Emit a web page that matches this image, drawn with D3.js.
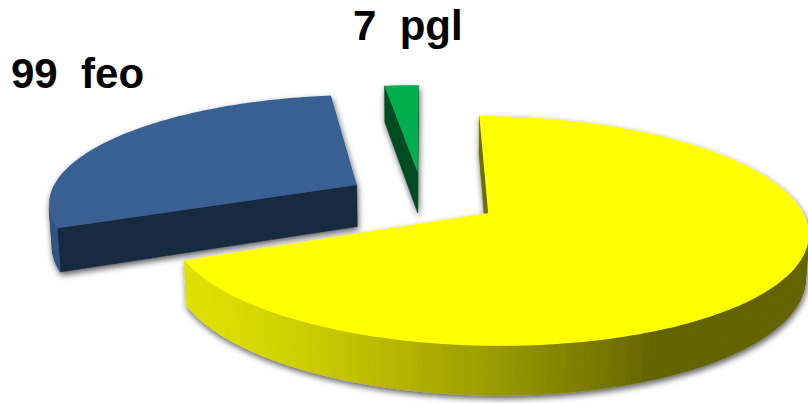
<!DOCTYPE html>
<html>
<head>
<meta charset="utf-8">
<script src="https://cdn.jsdelivr.net/npm/d3@7"></script>
<style>
  html, body { margin: 0; padding: 0; background: #ffffff; }
  svg { display: block; }
</style>
</head>
<body>
<svg id="chart" width="808" height="403"></svg>
<script>
// ---- data (clockwise from 12 o'clock) ----
const categories = ["other", "feo", "pgl"];
const values = [231, 99, 7];
const labelText = [null, "99  feo", "7  pgl"];
const sliceColors = ["#ffff00", "#376092", "#00b050"];

// ---- layout / view constants ----
const W = 808, H = 403;
const view = { cx: 422.5, cy: 198, f: 1899, D: 6.16, tilt: 20.4 * Math.PI / 180, depth: 0.147, explode: 0.25 };
const labelPos = [null, [11, 88], [353, 40]];
const sinA = Math.sin(view.tilt), cosA = Math.cos(view.tilt);
const lightAngle = 245 * Math.PI / 180;

const svg = d3.select("#chart");
const defs = svg.append("defs");
const flt = defs.append("filter").attr("id", "shadow")
  .attr("x", "-20%").attr("y", "-20%").attr("width", "140%").attr("height", "150%");
flt.append("feGaussianBlur").attr("in", "SourceAlpha").attr("stdDeviation", 3).attr("result", "b");
flt.append("feOffset").attr("in", "b").attr("dx", 1).attr("dy", 3).attr("result", "o");
const ct = flt.append("feComponentTransfer").attr("in", "o").attr("result", "s");
ct.append("feFuncA").attr("type", "linear").attr("slope", 0.65);
const mg = flt.append("feMerge");
mg.append("feMergeNode").attr("in", "s");
mg.append("feMergeNode").attr("in", "SourceGraphic");

// perspective projection of world point (X right, Y up, Z away)
function proj(X, Y, Z) {
  const yc = Y * cosA + Z * sinA;
  const zc = view.D - Y * sinA + Z * cosA;
  return [view.cx + view.f * X / zc, view.cy - view.f * yc / zc];
}
const camera = [0, view.D * sinA, -view.D * cosA];
function facing(nx, nz, px, py, pz) {
  return nx * (camera[0] - px) + nz * (camera[2] - pz) > 0;
}
function shade(color, k) {
  const c = d3.rgb(color);
  return d3.rgb(c.r * k, c.g * k, c.b * k).formatHex();
}
const line = d3.line();

const pie = d3.pie().sort(null).startAngle(0).endAngle(2 * Math.PI);
const arcs = pie(values).map((a, i) => {
  const m = (a.startAngle + a.endAngle) / 2;
  return Object.assign(a, { i, ox: view.explode * Math.sin(m), oz: view.explode * Math.cos(m) });
});

// draw back to front
const order = arcs.slice().sort((a, b) => b.oz - a.oz);
const hgt = view.depth;

order.forEach(a => {
  const g = svg.append("g").attr("filter", "url(#shadow)");
  const col = sliceColors[a.i];
  const a0 = a.startAngle, a1 = a.endAngle;
  const n = Math.max(2, Math.ceil((a1 - a0) / (Math.PI / 180)));
  const ts = d3.range(n + 1).map(k => a0 + (a1 - a0) * k / n);
  const pt = (t, y) => proj(a.ox + Math.sin(t), y, a.oz + Math.cos(t));
  const vTop = proj(a.ox, 0, a.oz), vBot = proj(a.ox, -hgt, a.oz);

  // radial faces
  const radial = [
    { t: a0, nx: -Math.cos(a0), nz: Math.sin(a0) },
    { t: a1, nx: Math.cos(a1), nz: -Math.sin(a1) }
  ];
  radial.forEach(r => {
    if (facing(r.nx, r.nz, a.ox, 0, a.oz)) {
      const poly = [vTop, pt(r.t, 0), pt(r.t, -hgt), vBot];
      g.append("path").attr("d", line(poly) + "Z")
        .attr("fill", shade(col, 0.43)).attr("stroke", shade(col, 0.43)).attr("stroke-width", 0.5);
    }
  });

  // curved outer side
  for (let k = 0; k < n; k++) {
    const t0 = ts[k], t1 = ts[k + 1], tm = (t0 + t1) / 2;
    const px = a.ox + Math.sin(tm), pz = a.oz + Math.cos(tm);
    if (!facing(Math.sin(tm), Math.cos(tm), px, 0, pz)) continue;
    const kk = 0.39 + 0.49 * Math.max(0, Math.cos(tm - lightAngle));
    const c = shade(col, kk);
    const poly = [pt(t0, 0), pt(t1, 0), pt(t1, -hgt), pt(t0, -hgt)];
    g.append("path").attr("d", line(poly) + "Z")
      .attr("fill", c).attr("stroke", c).attr("stroke-width", 0.6);
  }

  // top face
  const topPoly = [vTop].concat(ts.map(t => pt(t, 0)));
  g.append("path").attr("d", line(topPoly) + "Z").attr("fill", col);
});

// labels
arcs.forEach(a => {
  if (!labelText[a.i]) return;
  svg.append("text")
    .attr("x", labelPos[a.i][0]).attr("y", labelPos[a.i][1])
    .attr("font-family", "'Liberation Sans', Arial, sans-serif")
    .attr("font-weight", "bold").attr("font-size", 42)
    .attr("fill", "#000000")
    .style("white-space", "pre")
    .text(labelText[a.i]);
});
</script>
</body>
</html>
